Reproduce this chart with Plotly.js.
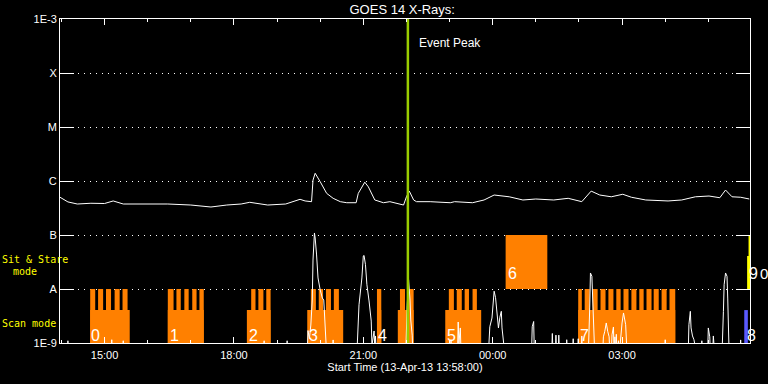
<!DOCTYPE html>
<html>
<head>
<meta charset="utf-8">
<script src="https://cdn.plot.ly/plotly-3.0.1.min.js"></script>
<style>html,body{margin:0;padding:0;background:#000;}#chart{width:768px;height:384px;}</style>
</head>
<body>
<div id="chart"></div>
<script>
// ---------------- DATA ----------------
// GOES 14 long channel (1-8 A) flux, W/m^2
const goesLongTime = ['13:58','14:09','14:22','14:41','15:00','15:12','15:26','15:58','16:28','17:00','17:28','17:50','18:10','18:22','18:47','19:12','19:32','19:39','19:48','19:50','19:53','20:00','20:09','20:18','20:28','20:37','20:50','20:53','21:02','21:07','21:16','21:28','21:37','21:56','22:00','22:04','22:10','22:14','22:33','23:01','23:07','23:32','23:48','00:02','00:23','00:42','01:00','01:25','01:45','02:04','02:17','02:29','02:45','03:01','03:13','03:33','04:04','04:23','04:42','05:01','05:16','05:24','05:33','05:45','05:57'];
const goesLongFlux = [5.0e-7,4.1e-7,3.75e-7,3.87e-7,3.83e-7,4.27e-7,3.75e-7,3.75e-7,3.75e-7,3.59e-7,3.30e-7,3.59e-7,3.75e-7,4.03e-7,3.59e-7,3.75e-7,4.58e-7,4.27e-7,4.14e-7,1.04e-6,1.39e-6,9.7e-7,5.9e-7,4.78e-7,4.14e-7,3.96e-7,3.96e-7,5.9e-7,9.5e-7,7.8e-7,4.45e-7,3.96e-7,4.14e-7,3.59e-7,5.1e-7,6.5e-7,4.45e-7,4.14e-7,4.14e-7,3.96e-7,4.14e-7,3.96e-7,4.45e-7,5.5e-7,5.1e-7,4.45e-7,4.64e-7,4.45e-7,4.78e-7,4.14e-7,6.5e-7,5.5e-7,5.1e-7,5.68e-7,5.0e-7,4.45e-7,4.27e-7,4.45e-7,5.1e-7,5.27e-7,4.9e-7,6.8e-7,5.1e-7,5.0e-7,4.64e-7];

// GOES 14 short channel (0.5-4 A) flux, W/m^2
const goesShortTime = ['13:58','14:08','14:09','14:10','15:09','15:10','15:11','15:25','15:26','15:27','18:41','18:42','18:43','19:13','19:14','19:15',
 '19:42','19:43','19:45','19:47','19:49','19:50','19:52','19:53','19:55','19:57','20:00','20:03','20:05','20:07','20:08','20:09','20:17','20:18','20:19',
 '20:51','20:54','20:58','21:00','21:01','21:03','21:05','21:08','21:11','21:12','21:15','21:16','21:17','21:18',
 '21:59','22:01','22:03','22:05','22:06','22:08','22:09',
 '23:01','23:02','23:03','23:11','23:12','23:13','23:15','23:16',
 '23:54','23:56','23:59','00:01','00:02','00:04','00:06','00:08','00:10','00:12','00:13','00:15','00:17',
 '00:54','00:55','00:57','00:58','01:22','01:23','01:24','01:27','01:28','01:29','01:31','01:32','01:33',
 '01:42','01:43','01:44','01:51','01:52','01:53','01:58','01:59','02:00','02:03','02:04','02:05',
 '02:13','02:15','02:16','02:18','02:19','02:20','02:22',
 '02:33','02:34','02:36','02:38','02:40','02:42','02:43','02:45','02:46','02:48','02:49','02:50','02:51','02:52','02:53','02:55','02:56','02:58','03:00','03:02','03:03','03:05','03:07',
 '03:59','04:00','04:01','04:32','04:33','04:35','04:36','04:38','04:40','04:44',
 '04:50','04:51','04:52','04:59','05:00','05:02','05:03','05:06','05:07','05:09',
 '05:19','05:21','05:22','05:24','05:26','05:27','05:28','05:29','05:44','05:45','05:46','05:58'];
const goesShortFlux = [6e-10,6e-10,1.1e-9,6e-10,6e-10,1.15e-9,6e-10,6e-10,1.1e-9,6e-10,6e-10,1.1e-9,6e-10,6e-10,1.1e-9,6e-10,
 6e-10,1.7e-9,1.2e-9,2.15e-9,6.25e-9,3.44e-8,1.09e-7,8.8e-8,4.27e-8,1.6e-8,9.6e-9,6.8e-9,6.25e-9,2.15e-9,1.3e-9,6e-10,6e-10,1.14e-9,6e-10,
 6e-10,5.1e-9,1.6e-8,4.08e-8,4.2e-8,2.82e-8,1.2e-8,6e-9,2.55e-9,9e-10,1.67e-9,8e-10,1.35e-9,6e-10,
 6e-10,5e-9,1.49e-8,6.25e-9,2.67e-9,1.4e-9,6e-10,
 6e-10,1.15e-9,6e-10,6e-10,2.45e-9,1.0e-9,1.9e-9,6e-10,
 6e-10,2.0e-9,2.9e-9,6.8e-9,9.1e-9,6.9e-9,2.9e-9,1.9e-9,3.0e-9,3.86e-9,1.9e-9,1.15e-9,6e-10,
 6e-10,2.0e-9,2.5e-9,6e-10,6e-10,1.5e-9,6e-10,6e-10,1.4e-9,6e-10,6e-10,1.4e-9,6e-10,
 6e-10,1.15e-9,6e-10,6e-10,1.2e-9,6e-10,6e-10,1.2e-9,6e-10,6e-10,1.35e-9,6e-10,
 6e-10,4.45e-9,1.98e-8,1.72e-8,7.85e-9,3.12e-9,6e-10,
 6e-10,1.3e-9,1.65e-9,2.35e-9,1.65e-9,1.3e-9,6e-10,6e-10,1.42e-9,1.98e-9,6e-10,1.3e-9,6e-10,1.45e-9,6e-10,1.1e-9,6e-10,1.42e-9,2.35e-9,3.6e-9,3.12e-9,2.18e-9,6e-10,
 6e-10,1.15e-9,6e-10,6e-10,2.18e-9,3.86e-9,1.9e-9,1.35e-9,1.15e-9,6e-10,
 6e-10,1.1e-9,6e-10,6e-10,1.9e-9,1.3e-9,6e-10,6e-10,1.35e-9,6e-10,
 6e-10,3.86e-9,1.2e-8,1.98e-8,1.72e-8,6.8e-9,1.9e-9,6e-10,6e-10,1.14e-9,6e-10,6e-10];

// Scan-mode rasters (each raster drawn up to level A)
const scanRasterStart = ['14:40','14:51','15:02','15:14','15:25','16:28','16:40','16:51','17:02','17:12','18:24','18:34','18:45','19:47','19:58','20:08','20:19','21:19','21:51','22:02','22:59','23:10','23:21','23:32','01:59','02:08','02:19','02:30','02:41','02:52','03:02','03:13','03:24','03:34','03:44','03:55','04:06'];
const scanRasterEnd   = ['14:47','14:58','15:09','15:21','15:32','16:36','16:46','16:57','17:08','17:18','18:30','18:41','18:51','19:54','20:04','20:15','20:26','21:25','21:58','22:10','23:06','23:17','23:27','23:38','02:04','02:15','02:26','02:37','02:48','02:58','03:09','03:20','03:30','03:41','03:51','04:02','04:14'];
// Scan-mode observation spans (drawn to the lower level)
const scanObsStart = ['14:40','16:28','18:18','19:42','21:19','21:48','22:54','01:59'];
const scanObsEnd   = ['15:35','17:18','18:51','20:32','21:25','22:10','23:44','04:14'];
// Sit & stare observation (between A and B)
const sitObsStart = ['00:18'];
const sitObsEnd   = ['01:16'];
// Other observations near the end of the window
const blueObsStart = ['05:50'], blueObsEnd = ['05:55'];
const yellowObsStart = ['05:56','05:54'], yellowObsEnd = ['05:58','05:58'];
const yellowObsTop = [1e-7, 4.1e-8];

// levels (flux)
const levelA = 1e-8, levelB = 1e-7, levelFloor = 1e-9, scanObsTop = 4.07e-9;

// observation labels
const obsLabelText = ['0','1','2','3','4','5','6','7','8','9'];
const obsLabelTime = ['14:39','16:28','18:18','19:41','21:18','22:53','00:19','01:58','05:51','05:54'];
const obsLabelMode = ['scan','scan','scan','scan','scan','scan','sit','scan','scan','sit'];
const obsLabelLevel = {scan: -8.86, sit: -7.72}; // log10 positions

const eventPeakTime = '22:02';

// axis
const yTickVals = [1e-9,1e-8,1e-7,1e-6,1e-5,1e-4,1e-3];
const yTickText = ['1E-9','A','B','C','M','X','1E-3'];

// ---------------- HELPERS ----------------
function d(hm){ return (parseInt(hm,10) >= 12 ? '2013-04-13 ' : '2013-04-14 ') + hm; }
function rects(starts, ends, bottoms, tops){
  const x = [], y = [];
  for (let i = 0; i < starts.length; i++){
    const s = d(starts[i]), e = d(ends[i]);
    const b = Array.isArray(bottoms) ? bottoms[i] : bottoms;
    const t = Array.isArray(tops) ? tops[i] : tops;
    x.push(s, s, e, e, s, null);
    y.push(b, t, t, b, b, null);
  }
  return {x, y};
}
function fillTrace(r, color){
  return {type:'scatter', mode:'lines', x:r.x, y:r.y, fill:'toself', fillcolor:color,
          line:{width:0, color:color}, hoverinfo:'skip', showlegend:false};
}

const ORANGE = '#FF8000', BLUE = '#5A5AFF', YELLOW = '#FFFF00', GREEN = '#99CC00';

const traces = [
  fillTrace(rects(scanRasterStart, scanRasterEnd, levelFloor, levelA), ORANGE),
  fillTrace(rects(scanObsStart, scanObsEnd, levelFloor, scanObsTop), ORANGE),
  fillTrace(rects(sitObsStart, sitObsEnd, levelA, levelB), ORANGE),
  fillTrace(rects(blueObsStart, blueObsEnd, levelFloor, scanObsTop), BLUE),
  fillTrace(rects(yellowObsStart, yellowObsEnd, levelA, yellowObsTop), YELLOW),
  {type:'scatter', mode:'lines', x:goesShortTime.map(d), y:goesShortFlux,
   line:{color:'#FFFFFF', width:1}, hoverinfo:'skip', showlegend:false},
  {type:'scatter', mode:'lines', x:goesLongTime.map(d), y:goesLongFlux,
   line:{color:'#FFFFFF', width:1}, hoverinfo:'skip', showlegend:false},
  {type:'scatter', mode:'lines', x:[d(eventPeakTime), d(eventPeakTime)], y:[levelFloor, 1e-3],
   line:{color:GREEN, width:2.5}, hoverinfo:'skip', showlegend:false}
];

const TXT = 'Liberation Sans';
const annotations = [];
obsLabelText.forEach((t, i) => {
  annotations.push({xref:'x', yref:'y', x:d(obsLabelTime[i]), y:obsLabelLevel[obsLabelMode[i]],
    text:t, showarrow:false, xanchor:'left', yanchor:'middle',
    font:{family:TXT, size:16, color:'#FFFFFF'}});
});
annotations.push({xref:'paper', yref:'y', x:1.012, y:obsLabelLevel.sit, text:'0', showarrow:false,
  xanchor:'left', yanchor:'middle', font:{family:TXT, size:15, color:'#FFFFFF'}});
annotations.push({xref:'paper', yref:'paper', x:0.517, y:0.926, text:'Event Peak', showarrow:false,
  xanchor:'left', yanchor:'middle', font:{family:TXT, size:12, color:'#FFFFFF'}});
const MONO = 'DejaVu Sans Mono';
annotations.push({xref:'paper', yref:'paper', x:-0.087, y:0.259, text:'Sit & Stare', showarrow:false,
  xanchor:'left', yanchor:'middle', font:{family:MONO, size:10, color:YELLOW}});
annotations.push({xref:'paper', yref:'paper', x:-0.071, y:0.222, text:'mode', showarrow:false,
  xanchor:'left', yanchor:'middle', font:{family:MONO, size:10, color:YELLOW}});
annotations.push({xref:'paper', yref:'paper', x:-0.087, y:0.059, text:'Scan mode', showarrow:false,
  xanchor:'left', yanchor:'middle', font:{family:MONO, size:10, color:YELLOW}});

const layout = {
  width:768, height:384,
  margin:{l:60, r:18, t:19, b:41, pad:0},
  paper_bgcolor:'#000000', plot_bgcolor:'#000000',
  showlegend:false,
  title:{text:'GOES 14 X-Rays:', xref:'paper', x:0.496, xanchor:'center', yref:'container', y:0.976, yanchor:'middle',
         font:{family:TXT, size:13, color:'#FFFFFF'}},
  xaxis:{type:'date', range:[d('13:58'), d('05:58')],
    tickmode:'linear', tick0:d('15:00'), dtick:3*3600000, tickformat:'%H:%M',
    ticks:'inside', ticklen:6, tickwidth:1, tickcolor:'#FFFFFF', ticklabelstandoff:2,
    minor:{dtick:3600000, tick0:d('14:00'), ticks:'inside', ticklen:3, tickwidth:1, tickcolor:'#FFFFFF', showgrid:false},
    showline:true, linecolor:'#FFFFFF', linewidth:1, mirror:'ticks',
    showgrid:false, zeroline:false,
    tickfont:{family:TXT, size:11, color:'#FFFFFF'},
    title:{text:'Start Time (13-Apr-13 13:58:00)', font:{family:TXT, size:11, color:'#FFFFFF'}, standoff:3}},
  yaxis:{type:'log', range:[-9,-3], tickmode:'array', tickvals:yTickVals, ticktext:yTickText,
    ticks:'inside', ticklen:14, tickwidth:1, tickcolor:'#FFFFFF',
    showline:true, linecolor:'#FFFFFF', linewidth:1, mirror:'ticks',
    showgrid:true, gridcolor:'#FFFFFF', gridwidth:1, griddash:'1px,5px', zeroline:false,
    tickfont:{family:TXT, size:11, color:'#FFFFFF'}},
  annotations:annotations
};

Plotly.newPlot('chart', traces, layout, {staticPlot:true, displayModeBar:false});
</script>
</body>
</html>
